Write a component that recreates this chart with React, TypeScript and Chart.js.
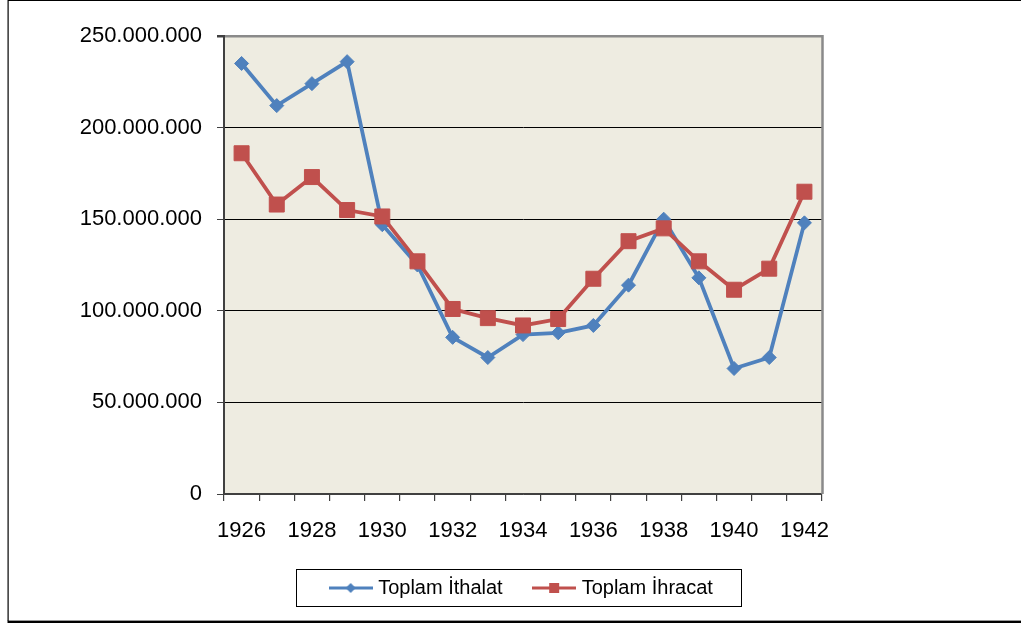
import React, { useEffect, useRef } from "react";
import { Chart, registerables } from "chart.js";

Chart.register(...registerables);

const years = ["1926","1927","1928","1929","1930","1931","1932","1933","1934","1935","1936","1937","1938","1939","1940","1941","1942"];
const shownYears = ["1926","1928","1930","1932","1934","1936","1938","1940","1942"];
const ithalat = [235000000,212000000,224000000,236000000,147000000,125000000,85500000,74500000,87000000,88000000,92000000,114000000,150000000,118000000,68500000,74500000,148000000];
const ihracat = [186000000,158000000,173000000,155000000,151500000,127000000,101000000,96000000,92000000,95500000,117500000,138000000,145000000,127000000,111500000,123000000,165000000];
const yMin = 0;
const yMax = 250000000;
const yStep = 50000000;
const seriesNames = ["Toplam İthalat", "Toplam İhracat"];
const BLUE = "#4F81BD";
const RED = "#C0504D";
const FONT = "'Liberation Sans', Arial, sans-serif";

function fmt(v: number): string {
  return String(Math.round(v)).replace(/\B(?=(\d{3})+(?!\d))/g, ".");
}

function makeLegendIcon(color: string, kind: "diamond" | "square"): HTMLCanvasElement {
  const c = document.createElement("canvas");
  c.width = 44;
  c.height = 20;
  const g = c.getContext("2d")!;
  g.strokeStyle = color;
  g.lineWidth = 3;
  g.beginPath();
  g.moveTo(0, 10);
  g.lineTo(44, 10);
  g.stroke();
  g.fillStyle = color;
  if (kind === "diamond") {
    g.beginPath();
    g.moveTo(22, 5);
    g.lineTo(27, 10);
    g.lineTo(22, 15);
    g.lineTo(17, 10);
    g.closePath();
    g.fill();
  } else {
    g.fillRect(17, 5, 10, 10);
  }
  return c;
}

export default function App() {
  const ref = useRef<HTMLCanvasElement | null>(null);

  useEffect(() => {
    document.body.style.margin = "0";
    document.body.style.overflow = "hidden";
    const canvas = ref.current;
    if (!canvas) return;
    const icons = [makeLegendIcon(BLUE, "diamond"), makeLegendIcon(RED, "square")];

    const decor = {
      id: "decor",
      beforeDraw(chart: any) {
        const { ctx, chartArea: a } = chart;
        ctx.save();
        ctx.fillStyle = "#EEECE1";
        ctx.fillRect(a.left, a.top, a.right - a.left, a.bottom - a.top);
        ctx.restore();
      },
      beforeDatasetsDraw(chart: any) {
        const { ctx, chartArea: a } = chart;
        ctx.save();
        ctx.strokeStyle = "#8a8a8a";
        ctx.lineWidth = 2.5;
        ctx.beginPath();
        ctx.moveTo(a.right + 0.5, a.top - 1);
        ctx.lineTo(a.right + 0.5, a.bottom);
        ctx.stroke();
        ctx.restore();
      },
      afterDraw(chart: any) {
        const { ctx } = chart;
        ctx.save();
        ctx.fillStyle = "#000";
        ctx.fillRect(8, 0, 1013, 1);
        ctx.fillRect(7.5, 0, 1.2, 621);
        ctx.fillRect(7.5, 620.6, 1014, 2.4);
        const hb = chart.legend && chart.legend.legendHitBoxes;
        if (hb && hb.length) {
          const first = hb[0];
          const last = hb[hb.length - 1];
          const cy = first.top + first.height / 2;
          const left = first.left - 37.5;
          const right = last.left + last.width + 28;
          ctx.strokeStyle = "#000";
          ctx.lineWidth = 1;
          ctx.strokeRect(Math.round(left) + 0.5, Math.round(cy - 19.5) + 0.5, Math.round(right - left), 37);
        }
        ctx.restore();
      },
    };

    const chart = new Chart(canvas, {
      type: "line",
      data: {
        labels: years,
        datasets: [
          {
            label: seriesNames[0],
            data: ithalat,
            borderColor: BLUE,
            backgroundColor: BLUE,
            borderWidth: 3.8,
            pointStyle: "rectRot",
            pointRadius: 7,
            pointBorderWidth: 1,
            pointBackgroundColor: BLUE,
            pointBorderColor: BLUE,
            tension: 0,
            order: 1,
          },
          {
            label: seriesNames[1],
            data: ihracat,
            borderColor: RED,
            backgroundColor: RED,
            borderWidth: 3.8,
            pointStyle: "rect",
            pointRadius: 10.6,
            pointBorderWidth: 1,
            pointBackgroundColor: RED,
            pointBorderColor: RED,
            tension: 0,
            order: 0,
          },
        ],
      },
      options: {
        responsive: false,
        animation: false,
        layout: { padding: { left: 0, right: 199, top: 36, bottom: 15 } },
        scales: {
          x: {
            type: "category",
            offset: true,
            afterFit: (s: any) => { s.height = 50; },
            grid: {
              offset: true,
              drawOnChartArea: false,
              drawTicks: true,
              tickLength: 7,
              color: "#404040",
              tickColor: "#404040",
              lineWidth: 1.2,
            },
            border: { display: true, color: "#404040", width: 1.5 },
            ticks: {
              autoSkip: false,
              maxRotation: 0,
              minRotation: 0,
              padding: 17,
              color: "#000",
              font: { family: FONT, size: 22 },
              callback: (_v: any, i: number) => (shownYears.includes(years[i]) ? years[i] : ""),
            },
          },
          y: {
            min: yMin,
            max: yMax,
            afterFit: (s: any) => { s.width = 224; },
            grid: {
              color: (c: any) => (c.tick && c.tick.value === yMax ? "#8a8a8a" : c.tick && c.tick.value === yMin ? "#404040" : "#000"),
              lineWidth: (c: any) => (c.tick && c.tick.value === yMax ? 2.5 : 1),
              tickColor: "#404040",
              tickLength: 7,
            },
            border: { display: true, color: "#404040", width: 2 },
            ticks: {
              stepSize: yStep,
              padding: 15,
              color: "#000",
              font: { family: FONT, size: 22 },
              callback: (v: any) => fmt(Number(v)),
            },
          },
        },
        plugins: {
          tooltip: { enabled: false },
          legend: {
            display: true,
            position: "bottom",
            fullSize: false,
            labels: {
              usePointStyle: true,
              pointStyleWidth: 35,
              padding: 34,
              color: "#000",
              font: { family: FONT, size: 20 },
              sort: (a: any, b: any) => a.datasetIndex - b.datasetIndex,
              generateLabels: (ch: any) => {
                const items = (Chart as any).defaults.plugins.legend.labels.generateLabels(ch);
                items.forEach((it: any) => { it.pointStyle = icons[it.datasetIndex]; });
                return items;
              },
            },
          },
        },
      },
      plugins: [decor],
    } as any);

    return () => chart.destroy();
  }, []);

  return (
    <div style={{ width: 1021, height: 623, position: "relative", background: "#fff" }}>
      <canvas ref={ref} width={1021} height={623} style={{ display: "block" }} />
    </div>
  );
}
